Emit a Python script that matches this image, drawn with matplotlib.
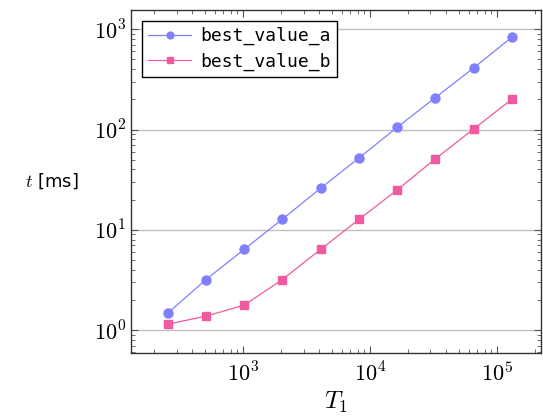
import matplotlib
matplotlib.use("Agg")
import matplotlib.pyplot as plt
import numpy as np
from matplotlib.ticker import LogLocator, NullFormatter, FuncFormatter

plt.rcParams['mathtext.fontset'] = 'cm'
plt.rcParams['font.family'] = ['DejaVu Sans']

T1 = [256, 512, 1024, 2048, 4096, 8192, 16384, 32768, 65536, 131072]
best_value_a = [1.48, 3.2, 6.4, 12.8, 26, 52, 105, 208, 410, 830]
best_value_b = [1.15, 1.38, 1.78, 3.2, 6.4, 12.7, 25, 51, 101, 200]

fig = plt.figure(figsize=(5.43, 4.19), dpi=100)
ax = fig.add_axes([0.241, 0.157, 0.755, 0.819])

ax.plot(T1, best_value_a, '-o', color='#8080ff', lw=0.9, ms=6.5, label='best_value_a')
ax.plot(T1, best_value_b, '-s', color='#f05aa0', lw=0.9, ms=6, label='best_value_b')

ax.set_xscale('log')
ax.set_yscale('log')
ax.set_xlim(131, 222000)
ax.set_ylim(0.59, 1550)

ax.yaxis.grid(True, which='major', color='#c0c0c0', lw=1)
ax.set_axisbelow(True)

fmt = FuncFormatter(lambda v, p: r'$10^{%d}$' % int(round(np.log10(v))))
ax.xaxis.set_major_locator(LogLocator(base=10, numticks=10))
ax.yaxis.set_major_locator(LogLocator(base=10, numticks=10))
ax.xaxis.set_major_formatter(fmt)
ax.yaxis.set_major_formatter(fmt)
ax.xaxis.set_minor_locator(LogLocator(base=10, subs=range(2, 10), numticks=20))
ax.yaxis.set_minor_locator(LogLocator(base=10, subs=range(2, 10), numticks=20))
ax.xaxis.set_minor_formatter(NullFormatter())
ax.yaxis.set_minor_formatter(NullFormatter())

ax.tick_params(which='both', direction='in', top=True, right=True, color='#555555')
ax.tick_params(which='major', length=5, labelsize=16)
ax.tick_params(which='minor', length=3)
ax.tick_params(axis='x', which='major', pad=6)
for s in ax.spines.values():
    s.set_color('#333333')
    s.set_linewidth(1)

ax.set_xlabel(r'$T_1$', fontsize=18, labelpad=3)
ax.set_ylabel(r'$t$ [ms]', fontsize=13, rotation=0, labelpad=30, va='center')

leg = ax.legend(loc='upper left', fontsize=13, fancybox=False, edgecolor='black',
                framealpha=1, borderaxespad=0.6, handlelength=2.4, borderpad=0.35,
                labelspacing=0.4, handletextpad=0.5, markerscale=0.75,
                prop={'family': 'DejaVu Sans Mono', 'size': 13})
leg.get_frame().set_linewidth(1)

fig.savefig('out.png', dpi=100)
